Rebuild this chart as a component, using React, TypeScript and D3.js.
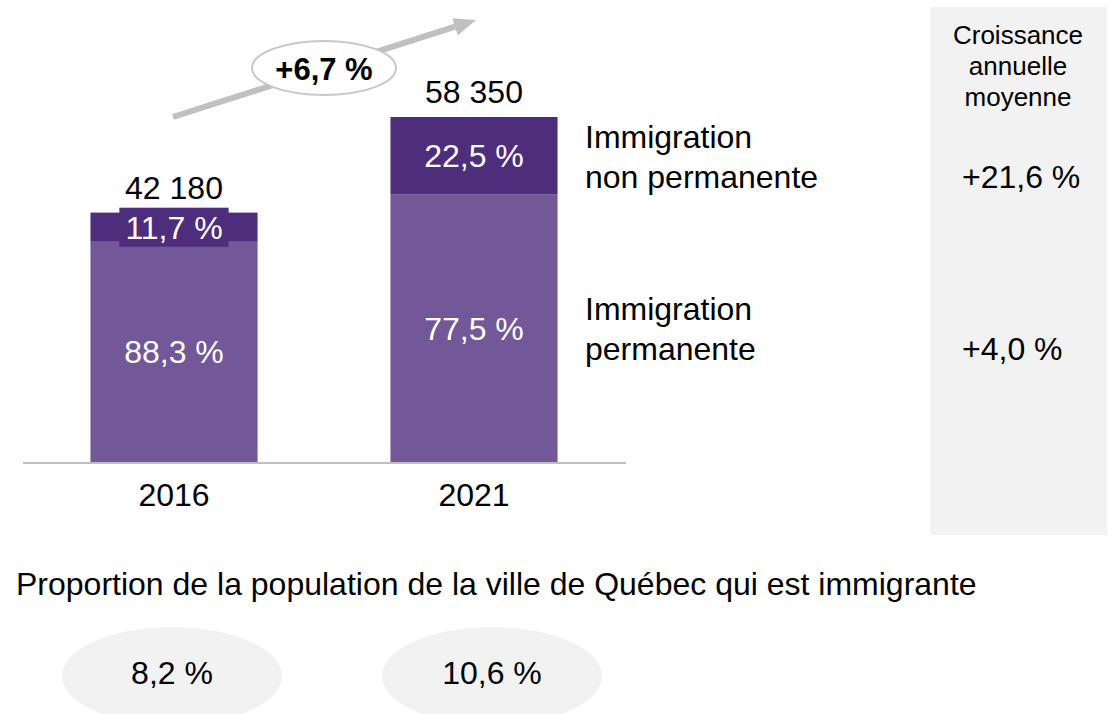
import React, { useEffect, useRef } from 'react';
import * as d3 from 'd3';

const years = ['2016', '2021'];
const totals = [42180, 58350];
const permShare = [88.3, 77.5];
const nonPermShare = [11.7, 22.5];
const seriesNames = [['Immigration', 'permanente'], ['Immigration', 'non permanente']];
const annualGrowth = ['+4,0 %', '+21,6 %'];
const growthHeader = ['Croissance', 'annuelle', 'moyenne'];
const overallGrowth = '+6,7 %';
const title = 'Proportion de la population de la ville de Québec qui est immigrante';
const immigrantShare = [8.2, 10.6];

const W = 1117;
const H = 714;
const FONT = '"Liberation Sans", Arial, sans-serif';
const FS = 32;
const LIGHT = '#725898';
const DARK = '#4f2d7d';

const fr = d3.formatLocale({ decimal: ',', thousands: ' ', grouping: [3], currency: ['', ''] });
const fmtInt = fr.format(',d');
const fmtPct = (v: number) => fr.format('.1f')(v) + ' %';

const App: React.FC = () => {
  const svgRef = useRef<SVGSVGElement>(null);

  useEffect(() => {
    const svg = d3.select(svgRef.current);
    svg.selectAll('*').remove();

    const rows = years.map((y, i) => ({
      year: y,
      perm: (totals[i] * permShare[i]) / 100,
      nonPerm: (totals[i] * nonPermShare[i]) / 100,
    }));
    const stacked = d3.stack<any>().keys(['perm', 'nonPerm'])(rows);
    const shares = [permShare, nonPermShare];

    const x = d3.scaleBand().domain(years).range([24, 624]).paddingInner(0.443).paddingOuter(0.2215);
    const y = d3.scaleLinear().domain([0, d3.max(totals) || 0]).range([462, 117]);

    // growth panel background
    svg.append('rect').attr('x', 930).attr('y', 7).attr('width', 177).attr('height', 528).attr('fill', '#f2f2f2');

    // bars
    stacked.forEach((layer, li) => {
      svg.append('g')
        .selectAll('rect')
        .data(layer)
        .enter()
        .append('rect')
        .attr('x', (d: any) => x(d.data.year) || 0)
        .attr('y', (d: any) => y(d[1]))
        .attr('width', x.bandwidth())
        .attr('height', (d: any) => y(d[0]) - y(d[1]))
        .attr('fill', li === 0 ? LIGHT : DARK);
    });

    // segment labels
    stacked.forEach((layer, li) => {
      layer.forEach((d: any, i) => {
        const cx = (x(d.data.year) || 0) + x.bandwidth() / 2;
        const cy = (y(d[0]) + y(d[1])) / 2;
        const segH = y(d[0]) - y(d[1]);
        const g = svg.append('g');
        const t = g.append('text')
          .attr('x', cx)
          .attr('y', cy + 11.5)
          .attr('text-anchor', 'middle')
          .attr('font-family', FONT)
          .attr('font-size', FS)
          .attr('fill', '#ffffff')
          .text(fmtPct(shares[li][i]));
        if (segH < 40) {
          const tw = (t.node() as SVGTextElement).getComputedTextLength();
          g.insert('rect', 'text')
            .attr('x', cx - tw / 2 - 6)
            .attr('y', cy - 19.5)
            .attr('width', tw + 12)
            .attr('height', 39)
            .attr('fill', DARK);
        }
      });
    });

    // totals
    svg.append('g')
      .selectAll('text')
      .data(rows)
      .enter()
      .append('text')
      .attr('x', (d) => (x(d.year) || 0) + x.bandwidth() / 2)
      .attr('y', (d, i) => y(totals[i]) - 14)
      .attr('text-anchor', 'middle')
      .attr('font-family', FONT)
      .attr('font-size', FS)
      .attr('fill', '#000')
      .text((d, i) => fmtInt(totals[i]));

    // baseline + year labels
    svg.append('line')
      .attr('x1', 23).attr('x2', 626).attr('y1', y(0) + 1).attr('y2', y(0) + 1)
      .attr('stroke', '#bfbfbf').attr('stroke-width', 2);
    svg.append('g')
      .selectAll('text')
      .data(years)
      .enter()
      .append('text')
      .attr('x', (d) => (x(d) || 0) + x.bandwidth() / 2)
      .attr('y', 506)
      .attr('text-anchor', 'middle')
      .attr('font-family', FONT)
      .attr('font-size', FS)
      .attr('fill', '#000')
      .text((d) => d);

    // legend (aligned with 2021 segments) and annual growth
    const last = years.length - 1;
    stacked.forEach((layer, li) => {
      const d: any = layer[last];
      const cy = (y(d[0]) + y(d[1])) / 2;
      seriesNames[li].forEach((line, k) => {
        svg.append('text')
          .attr('x', 585)
          .attr('y', cy - 8 + k * 40)
          .attr('font-family', FONT)
          .attr('font-size', FS)
          .attr('fill', '#000')
          .text(line);
      });
      svg.append('text')
        .attr('x', 962)
        .attr('y', cy + 32)
        .attr('font-family', FONT)
        .attr('font-size', FS)
        .attr('fill', '#000')
        .text(annualGrowth[li]);
    });

    growthHeader.forEach((line, k) => {
      svg.append('text')
        .attr('x', 1018)
        .attr('y', 44 + k * 31)
        .attr('text-anchor', 'middle')
        .attr('font-family', FONT)
        .attr('font-size', 26)
        .attr('fill', '#000')
        .text(line);
    });

    // overall growth arrow
    const x0 = 173, y0 = 117, x1 = 476, y1 = 20;
    const ang = Math.atan2(y1 - y0, x1 - x0);
    const hl = 22, hw = 9;
    const bx = x1 - hl * Math.cos(ang), by = y1 - hl * Math.sin(ang);
    svg.append('line')
      .attr('x1', x0).attr('y1', y0).attr('x2', bx).attr('y2', by)
      .attr('stroke', '#c0c0c0').attr('stroke-width', 6);
    svg.append('path')
      .attr('d', d3.line()([
        [x1, y1],
        [bx + hw * Math.sin(ang), by - hw * Math.cos(ang)],
        [bx - hw * Math.sin(ang), by + hw * Math.cos(ang)],
      ]) + 'Z')
      .attr('fill', '#c0c0c0');
    svg.append('ellipse')
      .attr('cx', 324).attr('cy', 68).attr('rx', 72).attr('ry', 27)
      .attr('fill', '#fff').attr('stroke', '#c8c8c8').attr('stroke-width', 2);
    svg.append('text')
      .attr('x', 324).attr('y', 80)
      .attr('text-anchor', 'middle')
      .attr('font-family', FONT)
      .attr('font-size', 31)
      .attr('font-weight', 'bold')
      .attr('fill', '#000')
      .text(overallGrowth);

    // immigrant share of population
    svg.append('text')
      .attr('x', 16).attr('y', 595)
      .attr('font-family', FONT)
      .attr('font-size', FS)
      .attr('fill', '#000')
      .text(title);
    const ex = [172, 492];
    immigrantShare.forEach((v, i) => {
      svg.append('ellipse')
        .attr('cx', ex[i]).attr('cy', 676).attr('rx', 110).attr('ry', 49)
        .attr('fill', '#f2f2f2');
      svg.append('text')
        .attr('x', ex[i]).attr('y', 684)
        .attr('text-anchor', 'middle')
        .attr('font-family', FONT)
        .attr('font-size', FS)
        .attr('fill', '#000')
        .text(fmtPct(v));
    });
  }, []);

  return (
    <svg
      ref={svgRef}
      width={W}
      height={H}
      style={{ position: 'absolute', left: 0, top: 0, background: '#fff' }}
    ></svg>
  );
};

export default App;
